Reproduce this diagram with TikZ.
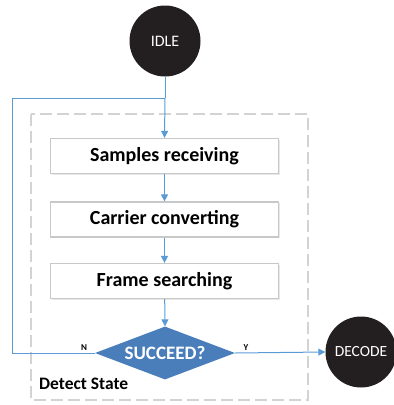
\documentclass[tikz,border=0pt]{standalone}
\usepackage{fontspec}
\setmainfont{Carlito}
\usetikzlibrary{shapes.geometric,arrows.meta,shadows}
\definecolor{lineblue}{HTML}{5B9BD5}
\definecolor{diafill}{HTML}{4A7EBB}
\definecolor{dark}{HTML}{231F20}
\definecolor{boxgray}{HTML}{C8C8C8}
\begin{document}
\begin{tikzpicture}[x=1pt,y=-1pt,
  state/.style={circle,fill=dark,text=white,minimum size=71pt,inner sep=0pt,font=\fontsize{16}{18}\selectfont},
  stepbox/.style={draw=boxgray,line width=1.2pt,fill=white,minimum width=228pt,minimum height=35pt,inner sep=0pt,font=\bfseries\fontsize{20}{22}\selectfont,drop shadow={shadow xshift=1pt,shadow yshift=-1pt,fill=black!15,opacity=0.6}},
  decision/.style={diamond,aspect=2.64,fill=diafill,text=white,inner sep=0pt,minimum width=140pt,minimum height=53pt,font=\bfseries\fontsize{19}{21}\selectfont},
  flow/.style={draw=lineblue,line width=1pt,-{Triangle[length=7pt,width=7pt]}},
  flowplain/.style={draw=lineblue,line width=1pt},
  lbl/.style={font=\bfseries\fontsize{9}{10}\selectfont,inner sep=1pt}
]
\useasboundingbox (0,0) rectangle (394,405);
\draw[boxgray!80,line width=1.2pt,dash pattern=on 12pt off 5pt] (31,114) rectangle (308,400);
\node[state] (idle) at (165,41) {IDLE};
\node[stepbox] (s1) at (164.5,156) {Samples receiving};
\node[stepbox] (s2) at (164.5,219.5) {Carrier converting};
\node[stepbox] (s3) at (164.5,281) {Frame searching};
\node[decision] (dec) at (165,353) {SUCCEED?};
\node[state,font=\fontsize{15.5}{17}\selectfont] (decode) at (361,352) {DECODE};
\node[anchor=west,font=\bfseries\fontsize{17.5}{20}\selectfont,inner sep=0pt] (ds) at (39,384) {Detect State};
\coordinate (j) at (165,98);
\coordinate (lt) at (12,98);
\coordinate (lb) at (12,353);
\draw[flowplain] (idle.south) -- (j);
\draw[flow] (j) -- (s1.north);
\draw[flow] (s1) -- (s2);
\draw[flow] (s2) -- (s3);
\draw[flow] (s3) -- (dec.north);
\draw[flowplain] (dec.west) -- (lb) -- (lt) -- (j);
\draw[flow] (dec.east) -- (decode.west);
\node[lbl,anchor=south] (n) at (84,352) {N};
\node[lbl,anchor=south] (y) at (246,352) {Y};
\end{tikzpicture}
\end{document}
